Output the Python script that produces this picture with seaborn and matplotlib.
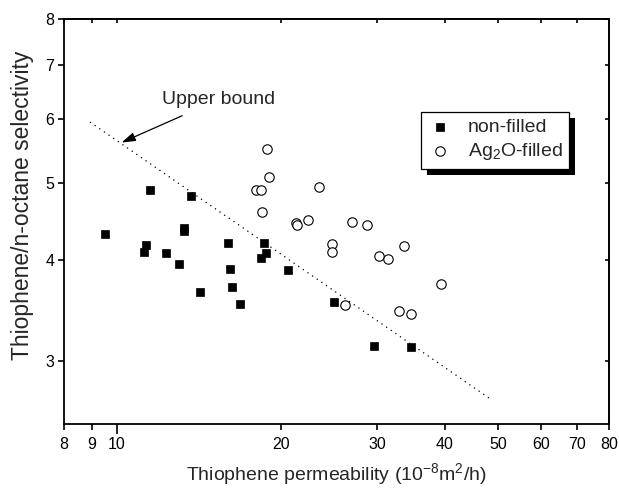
import matplotlib
matplotlib.use("Agg")
import matplotlib.pyplot as plt
import seaborn as sns
import pandas as pd
from matplotlib.patches import Rectangle
from matplotlib.ticker import FixedLocator, NullLocator, FixedFormatter

# ---- data ----
nf_x = [9.5, 11.5, 13.7, 13.3, 13.3, 11.3, 11.2, 12.3, 13.0, 14.2, 16.0,
        16.1, 16.3, 16.8, 18.6, 18.8, 18.4, 20.6, 25.0, 29.7, 34.6]
nf_y = [4.31, 4.90, 4.81, 4.39, 4.35, 4.18, 4.10, 4.09, 3.96, 3.65, 4.20,
        3.90, 3.71, 3.53, 4.21, 4.08, 4.03, 3.89, 3.55, 3.13, 3.12]

ag_x = [18.9, 19.0, 18.0, 18.4, 23.5, 18.5, 21.3, 21.4, 22.4, 27.0,
        28.8, 24.8, 24.8, 33.7, 30.3, 31.5, 39.3, 26.2, 33.0, 34.6]
ag_y = [5.51, 5.08, 4.89, 4.89, 4.94, 4.59, 4.45, 4.43, 4.49, 4.46,
        4.43, 4.19, 4.10, 4.17, 4.05, 4.02, 3.74, 3.52, 3.46, 3.43]

bound_x = [8.93, 48.7]
bound_y = [5.95, 2.68]

x_ticks = [8, 9, 10, 20, 30, 40, 50, 60, 70, 80]
y_ticks = [3, 4, 5, 6, 7, 8]

sns.set_theme(style="ticks")
plt.rcParams['font.family'] = ['Liberation Sans', 'DejaVu Sans']
plt.rcParams['mathtext.default'] = 'regular'

fig = plt.figure(figsize=(6.19, 4.90), dpi=100)
ax = fig.add_axes([64/619, 1-424/490, 545/619, 405/490])

df_nf = pd.DataFrame({"x": nf_x, "y": nf_y})
df_ag = pd.DataFrame({"x": ag_x, "y": ag_y})
df_b = pd.DataFrame({"x": bound_x, "y": bound_y})

sns.lineplot(data=df_b, x="x", y="y", ax=ax, color="black", lw=0.9,
             linestyle=(0, (1, 3.5)), legend=False)
sns.scatterplot(data=df_nf, x="x", y="y", ax=ax, marker="s", s=40,
                color="black", edgecolor="black", linewidth=0.5,
                label="non-filled", zorder=3)
sns.scatterplot(data=df_ag, x="x", y="y", ax=ax, marker="o", s=46,
                facecolor="white", edgecolor="black", linewidth=0.8,
                label="Ag$_2$O-filled", zorder=3)

ax.set_xscale("log")
ax.set_yscale("log")
ax.set_xlim(8, 80)
ax.set_ylim(2.5, 8)

ax.xaxis.set_major_locator(FixedLocator([10]))
ax.xaxis.set_major_formatter(FixedFormatter(["10"]))
ax.xaxis.set_minor_locator(FixedLocator([t for t in x_ticks if t != 10]))
ax.xaxis.set_minor_formatter(FixedFormatter([str(t) for t in x_ticks if t != 10]))
ax.yaxis.set_major_locator(FixedLocator(y_ticks))
ax.yaxis.set_major_formatter(FixedFormatter([str(t) for t in y_ticks]))
ax.yaxis.set_minor_locator(NullLocator())

ax.tick_params(axis="x", which="major", direction="out", length=7, width=1.2,
               labelsize=11.5, colors="black", pad=2.2)
ax.tick_params(axis="x", which="minor", direction="out", length=4, width=1.2,
               labelsize=11.5, colors="black", pad=5.7)
ax.tick_params(axis="y", which="major", direction="out", length=4, width=1.2,
               labelsize=11.5, colors="black", pad=3)
ax.tick_params(top=False, right=False, which="both")
for sp in ax.spines.values():
    sp.set_linewidth(1.3)
    sp.set_color("black")

# inward ticks on top and right
sec_x = ax.secondary_xaxis("top")
sec_x.xaxis.set_major_locator(FixedLocator(x_ticks))
sec_x.xaxis.set_minor_locator(NullLocator())
sec_x.tick_params(direction="in", length=3, width=1.2, labeltop=False, colors="black")
sec_x.spines["top"].set_linewidth(1.3)
sec_y = ax.secondary_yaxis("right")
sec_y.yaxis.set_major_locator(FixedLocator(y_ticks))
sec_y.yaxis.set_minor_locator(NullLocator())
sec_y.tick_params(direction="in", length=3, width=1.2, labelright=False, colors="black")
sec_y.spines["right"].set_linewidth(1.3)

ax.set_xlabel("Thiophene permeability (10$^{-8}$m$^2$/h)", fontsize=14, labelpad=6)
ax.set_ylabel("Thiophene/n-octane selectivity", fontsize=16.5)
ax.yaxis.set_label_coords((34 - 64) / 545, (424 - 205) / 405)

ax.annotate("Upper bound", xy=(10.2, 5.61), xytext=(15.4, 6.35),
            fontsize=14, ha="center", va="center",
            arrowprops=dict(arrowstyle="-|>,head_width=0.22,head_length=0.7",
                            color="black", lw=0.9,
                            shrinkA=8, shrinkB=0, mutation_scale=12))

leg = ax.legend(loc="upper left", bbox_to_anchor=((421-64)/545, (424-112)/405),
                borderaxespad=0, frameon=True, fancybox=False, fontsize=14,
                handletextpad=0.8, borderpad=0.35, labelspacing=0.25,
                handlelength=1.25, markerscale=1.0)
leg.get_frame().set_edgecolor("black")
leg.get_frame().set_linewidth(0.9)
leg.get_frame().set_facecolor("white")
leg.get_frame().set_alpha(1)

fig.canvas.draw()
bb = leg.get_frame().get_window_extent().transformed(ax.transAxes.inverted())
dx = 6 / 545
dy = 6 / 405
ax.add_patch(Rectangle((bb.x0 + dx, bb.y0 - dy), bb.width, bb.height,
                       transform=ax.transAxes, facecolor="black",
                       edgecolor="none", zorder=4.5, clip_on=False))

fig.savefig("out.png", dpi=100)
